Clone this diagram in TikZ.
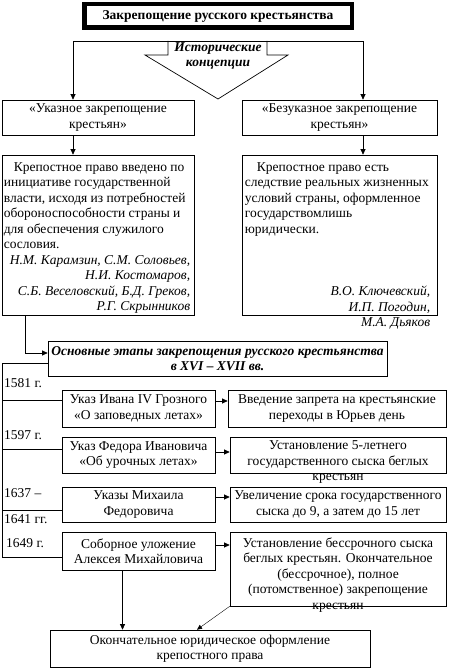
\documentclass[tikz,border=0pt]{standalone}
\usepackage{fontspec}
\setmainfont{Liberation Serif}
\usetikzlibrary{arrows.meta,calc}
\tikzset{
  zk box/.style={draw, line width=0.7pt, inner sep=0pt, align=center, font=\zkfont},
  zk title/.style={draw, line width=4.5pt, inner sep=0pt, font=\zkfont\bfseries},
  zk line/.style={draw, line width=0.7pt},
  zk arrow/.style={draw, line width=0.7pt, -{Triangle[length=5.5pt,width=5pt]}},
  zk thin arrow/.style={draw, line width=0.4pt, -{Triangle[length=5pt,width=4.5pt]}},
  zk text/.style={inner sep=0pt, font=\zkfont},
  zk head/.style={inner sep=0pt, align=center, font=\zkfont\bfseries\itshape},
}
\newcommand{\zkfont}{\fontsize{13.5}{15.5}\selectfont}

\begin{document}
\begin{tikzpicture}[x=1pt, y=-1pt]
  \useasboundingbox (0,0) rectangle (449,668);
  % Title and the two concepts
  \node[zk title, minimum width=267.5pt, minimum height=23.5pt] (title) at (218,16) {Закрепощение русского крестьянства};
  \coordinate (leftArm) at (73,41);
  \coordinate (rightArm) at (363,41);
  \coordinate (koncep) at (218,41);
  \draw[line width=0.7pt] (168,41) -- (168,55) -- (145,55) -- (218,99) -- (288,55) -- (267,55) -- (267,41);
  \node[zk head] (koncepLabel) at (218,56) {Исторические\\концепции};
  \node[zk box, minimum width=192pt, minimum height=35pt] (ukaz) at (98,117.5) {«Указное закрепощение\\крестьян»};
  \node[zk box, minimum width=195pt, minimum height=35pt] (bezukaz) at (339.5,117.5) {«Безуказное закрепощение\\крестьян»};
  \draw[zk arrow] (koncep) -- (leftArm) -- (leftArm |- ukaz.north);
  \draw[zk arrow] (koncep) -- (rightArm) -- (rightArm |- bezukaz.north);
  % Texts of the concepts
  \node[zk box, minimum width=192pt, minimum height=160pt] (ukazText) at (98,235) {};
  \node[zk box, minimum width=195pt, minimum height=160pt] (bezukazText) at (339.5,235) {};
  \draw[zk arrow] (leftArm |- ukaz.south) -- (leftArm |- ukazText.north);
  \draw[zk arrow] (rightArm |- bezukaz.south) -- (rightArm |- bezukazText.north);
  \node[zk text, align=left, anchor=north west] (ukazBody) at ($(ukazText.north west)+(2,7.5)$)
    {\hspace*{10pt}Крепостное право введено по\\инициативе государственной\\власти, исходя из потребностей\\обороноспособности страны и\\для обеспечения служилого\\сословия.};
  \node[zk text, align=right, anchor=north east, font=\zkfont\itshape] (ukazAuthors) at ($(ukazText.north east)+(-4,100.5)$)
    {Н.М. Карамзин, С.М. Соловьев,\\Н.И. Костомаров,\\С.Б. Веселовский, Б.Д. Греков,\\Р.Г. Скрынников};
  \node[zk text, align=left, anchor=north west] (bezukazBody) at ($(bezukazText.north west)+(3,7.5)$)
    {\hspace*{12pt}Крепостное право есть\\следствие реальных жизненных\\условий страны, оформленное\\государствомлишь\\юридически.};
  \node[zk text, align=right, anchor=north east, font=\zkfont\itshape] (bezukazAuthors) at ($(bezukazText.north east)+(-7,131.5)$)
    {В.О. Ключевский,\\И.П. Погодин,\\М.А. Дьяков};
  % Stages
  \node[zk box, minimum width=339pt, minimum height=35pt, font=\zkfont\bfseries\itshape] (stages) at (217.5,358.5)
    {Основные этапы закрепощения русского крестьянства\\в XVI – XVII вв.};
  \coordinate (drop) at (25,353);
  \draw[zk arrow] (ukazText.south -| drop) -- (drop) -- (stages.west |- drop);
  \node[zk box, minimum width=153pt, minimum height=37pt] (ivan) at (138.5,408.5) {Указ Ивана IV Грозного\\«О заповедных летах»};
  \node[zk box, minimum width=218pt, minimum height=37pt] (zapret) at (337,408.5) {Введение запрета на крестьянские\\переходы в Юрьев день};
  \node[zk box, minimum width=153pt, minimum height=36pt] (fedor) at (138.5,455) {Указ Федора Ивановича\\«Об урочных летах»};
  \node[zk box, minimum width=216pt, minimum height=36pt] (sysk) at (338,455) {};
  \node[zk text, align=center, anchor=north] (syskText) at ($(sysk.north)+(0,4)$) {Установление 5-летнего\\государственного сыска беглых\\крестьян};
  \node[zk box, minimum width=153pt, minimum height=35pt] (mikh) at (138.5,504.5) {Указы Михаила\\Федоровича};
  \node[zk box, minimum width=216pt, minimum height=35pt] (srok) at (338,504.5) {Увеличение срока государственного\\сыска до 9, а затем до 15 лет};
  \node[zk box, minimum width=153pt, minimum height=38pt] (sobor) at (138.5,551) {Соборное уложение\\Алексея Михайловича};
  \node[zk box, minimum width=216pt, minimum height=74pt] (bessr) at (338,569) {};
  \node[zk text, align=center, anchor=north] (bessrText) at ($(bessr.north)+(0,5.5)$)
    {Установление бессрочного сыска\\беглых крестьян. Окончательное\\(бессрочное), полное\\(потомственное) закрепощение\\крестьян};
  \node[zk box, minimum width=320pt, minimum height=37pt] (final) at (210,648.5) {Окончательное юридическое оформление\\крепостного права};
  % Years on the left
  \node[zk text, anchor=west] (y1581) at (4,383) {1581 г.};
  \node[zk text, anchor=west] (y1597) at (4,435) {1597 г.};
  \node[zk text, anchor=west] (y1637) at (4,493) {1637 –};
  \node[zk text, anchor=west] (y1641) at (4,519) {1641 гг.};
  \node[zk text, anchor=west] (y1649) at (6,543) {1649 г.};
  \coordinate (spineTop) at (2,363);
  \coordinate (spineBot) at (2,557);
  \draw[zk line] (stages.west |- spineTop) -- (spineTop) -- (spineBot) -- (sobor.west |- spineBot);
  \foreach \y/\n in {400/ivan, 449/fedor, 510/mikh}
    \draw[zk line] (spineTop |- 0,\y) -- (\n.west |- 0,\y);
  \foreach \src/\dst/\y in {ivan/zapret/401, fedor/sysk/452, mikh/srok/497, sobor/bessr/545}
    \draw[zk arrow] (\src.east |- 0,\y) -- (\dst.west |- 0,\y);
  % Towards the final result
  \coordinate (soborOut) at ($(sobor.south)+(-16,0)$);
  \coordinate (finalIn) at ($(final.north)+(-13,0)$);
  \draw[zk arrow] (soborOut) -- (soborOut |- final.north);
  \draw[zk thin arrow] (bessr.south west) -- (finalIn);
\end{tikzpicture}
\end{document}
